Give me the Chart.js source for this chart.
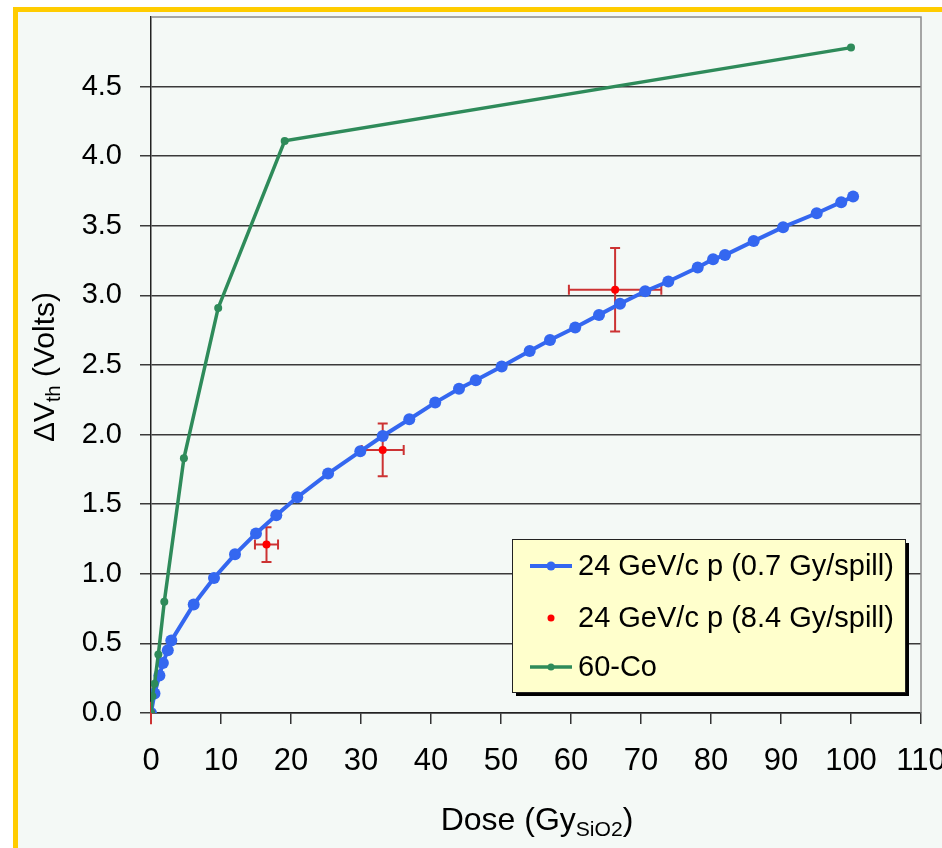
<!DOCTYPE html>
<html>
<head>
<meta charset="utf-8">
<script src="https://cdn.jsdelivr.net/npm/chart.js@4/dist/chart.umd.min.js"></script>
<style>
  html, body { margin: 0; padding: 0; background: #ffffff; }
  canvas { display: block; }
</style>
</head>
<body>
<canvas id="chart" width="942" height="848"></canvas>
<script>
// Threshold-voltage shift against absorbed dose

const doseTicks = [0, 10, 20, 30, 40, 50, 60, 70, 80, 90, 100, 110];
const voltTicks = [0, 0.5, 1.0, 1.5, 2.0, 2.5, 3.0, 3.5, 4.0, 4.5];

const seriesNames = [
  '24 GeV/c p (0.7 Gy/spill)',
  '24 GeV/c p (8.4 Gy/spill)',
  '60-Co'
];

// 24 GeV/c protons, 0.7 Gy per spill
const lowRateDose = [0, 0.5, 1.2, 1.7, 2.4, 2.9, 6.1, 9.0, 12.0, 15.0, 17.9, 20.9, 25.3, 29.9, 33.1,
  36.9, 40.6, 44.0, 46.4, 50.1, 54.1, 57.0, 60.6, 64.0, 67.0, 70.6, 73.9, 78.1, 80.3, 82.0,
  86.1, 90.3, 95.1, 98.6, 100.3];
const lowRateShift = [0, 0.14, 0.27, 0.36, 0.45, 0.52, 0.78, 0.97, 1.14, 1.29, 1.42, 1.55, 1.72, 1.88, 1.99,
  2.11, 2.23, 2.33, 2.39, 2.49, 2.60, 2.68, 2.77, 2.86, 2.94, 3.03, 3.10, 3.20, 3.26, 3.29,
  3.39, 3.49, 3.59, 3.67, 3.71];

// 24 GeV/c protons, 8.4 Gy per spill, with uncertainties (down / up / either side)
const highRateDose = [0, 16.5, 33.1, 66.3];
const highRateShift = [0, 1.21, 1.89, 3.04];
const highRateDoseErr = [0, 1.65, 3.0, 6.6];
const highRateShiftErr = [0.08, 0.125, 0.19, 0.30];

// 60-Co gamma irradiation
const cobaltDose = [0, 0.2, 0.5, 1.05, 1.9, 4.7, 9.6, 19.1, 100.0];
const cobaltShift = [0, 0.12, 0.21, 0.42, 0.80, 1.83, 2.91, 4.11, 4.78];

const BLUE = '#3467f0';
const RED = '#ff0000';
const ERR_RED = '#cc3333';
const GREEN = '#2e8b5a';
const PANEL = '#f4f9f6';
const FONT = '"Liberation Sans", Arial, sans-serif';

const toPoints = (xs, ys) => xs.map((x, i) => ({ x: x, y: ys[i] }));

// Page background with the yellow frame
const backdrop = {
  id: 'backdrop',
  beforeDraw(chart) {
    const { ctx, width, height } = chart;
    ctx.save();
    ctx.fillStyle = '#ffffff';
    ctx.fillRect(0, 0, width, height);
    ctx.fillStyle = '#ffcc00';
    ctx.fillRect(13, 7, width - 13, height - 7);
    ctx.fillStyle = PANEL;
    ctx.fillRect(18, 12, width - 18, height - 12);
    ctx.restore();
  }
};

// Horizontal and vertical error bars for the 8.4 Gy/spill points
const errorBars = {
  id: 'errorBars',
  beforeDatasetsDraw(chart) {
    const { ctx, scales: { x, y } } = chart;
    const cap = 5;
    ctx.save();
    ctx.strokeStyle = ERR_RED;
    ctx.lineWidth = 2;
    highRateDose.forEach((d, i) => {
      const v = highRateShift[i];
      const px = x.getPixelForValue(d);
      const py = y.getPixelForValue(v);
      const dy = highRateShiftErr[i];
      const dx = highRateDoseErr[i];
      const withCaps = dx > 0;
      ctx.beginPath();
      if (dy > 0) {
        const top = y.getPixelForValue(v + dy);
        const bot = y.getPixelForValue(v - dy);
        ctx.moveTo(px, top); ctx.lineTo(px, bot);
        if (withCaps) {
          ctx.moveTo(px - cap, top); ctx.lineTo(px + cap, top);
          ctx.moveTo(px - cap, bot); ctx.lineTo(px + cap, bot);
        }
      }
      if (dx > 0) {
        const l = x.getPixelForValue(d - dx);
        const r = x.getPixelForValue(d + dx);
        ctx.moveTo(l, py); ctx.lineTo(r, py);
        ctx.moveTo(l, py - cap); ctx.lineTo(l, py + cap);
        ctx.moveTo(r, py - cap); ctx.lineTo(r, py + cap);
      }
      ctx.stroke();
    });
    ctx.restore();
  }
};

// Grey top and right edges of the plot frame
const frame = {
  id: 'frame',
  beforeDatasetsDraw(chart) {
    const { ctx, chartArea: a } = chart;
    ctx.save();
    ctx.strokeStyle = '#8a8a8a';
    ctx.lineWidth = 1.5;
    ctx.beginPath();
    ctx.moveTo(a.left, a.top);
    ctx.lineTo(a.right, a.top);
    ctx.lineTo(a.right, a.bottom);
    ctx.stroke();
    ctx.restore();
  }
};

// Text with one subscript run, centred on the origin
function drawSubText(ctx, parts, size) {
  let w = 0;
  parts.forEach(p => {
    ctx.font = (p.sub ? size * 0.66 : size) + 'px ' + FONT;
    p.w = ctx.measureText(p.t).width;
    w += p.w;
  });
  let cx = -w / 2;
  parts.forEach(p => {
    ctx.font = (p.sub ? size * 0.66 : size) + 'px ' + FONT;
    ctx.fillText(p.t, cx, p.sub ? size * 0.28 : 0);
    cx += p.w;
  });
}

const axisTitles = {
  id: 'axisTitles',
  afterDraw(chart) {
    const { ctx } = chart;
    ctx.save();
    ctx.fillStyle = '#000000';
    ctx.textBaseline = 'middle';
    ctx.textAlign = 'left';

    ctx.save();
    ctx.translate(537, 821);
    drawSubText(ctx, [{ t: 'Dose (Gy' }, { t: 'SiO2', sub: true }, { t: ')' }], 32);
    ctx.restore();

    ctx.save();
    ctx.translate(46, 367);
    ctx.rotate(-Math.PI / 2);
    drawSubText(ctx, [{ t: '\u0394V' }, { t: 'th', sub: true }, { t: ' (Volts)' }], 30);
    ctx.restore();

    ctx.restore();
  }
};

// Boxed legend with drop shadow
const legendBox = {
  id: 'legendBox',
  afterDraw(chart) {
    const { ctx } = chart;
    const bx = 512, by = 539, bw = 393, bh = 153;
    ctx.save();
    ctx.fillStyle = '#000000';
    ctx.fillRect(bx + 4, by + 4, bw, bh);
    ctx.fillStyle = '#ffffcc';
    ctx.fillRect(bx, by, bw, bh);
    ctx.strokeStyle = '#222222';
    ctx.lineWidth = 1;
    ctx.strokeRect(bx + 0.5, by + 0.5, bw, bh);

    const rows = [566, 618, 667];
    chart.data.datasets.forEach((ds, i) => {
      const ry = rows[i];
      if (ds.showLine !== false) {
        ctx.strokeStyle = ds.borderColor;
        ctx.lineWidth = ds.borderWidth;
        ctx.beginPath();
        ctx.moveTo(530, ry);
        ctx.lineTo(572, ry);
        ctx.stroke();
      }
      ctx.fillStyle = ds.pointBackgroundColor;
      ctx.beginPath();
      ctx.arc(551, ry, i === 0 ? 4.5 : 3.5, 0, Math.PI * 2);
      ctx.fill();

      ctx.fillStyle = '#000000';
      ctx.font = '29px ' + FONT;
      ctx.textBaseline = 'middle';
      ctx.textAlign = 'left';
      ctx.fillText(ds.label, 578, ry + 1);
    });
    ctx.restore();
  }
};

new Chart(document.getElementById('chart'), {
  type: 'scatter',
  data: {
    datasets: [
      {
        label: seriesNames[0],
        data: toPoints(lowRateDose, lowRateShift),
        showLine: true,
        borderColor: BLUE,
        backgroundColor: BLUE,
        pointBackgroundColor: BLUE,
        pointBorderWidth: 0,
        borderWidth: 4,
        pointRadius: 6,
        order: 3
      },
      {
        label: seriesNames[1],
        data: toPoints(highRateDose, highRateShift),
        showLine: false,
        borderColor: RED,
        backgroundColor: RED,
        pointBackgroundColor: RED,
        pointBorderWidth: 0,
        pointRadius: 4,
        order: 2
      },
      {
        label: seriesNames[2],
        data: toPoints(cobaltDose, cobaltShift),
        showLine: true,
        borderColor: GREEN,
        backgroundColor: GREEN,
        pointBackgroundColor: GREEN,
        pointBorderWidth: 0,
        borderWidth: 3.5,
        pointRadius: 4,
        order: 1
      }
    ]
  },
  options: {
    responsive: false,
    animation: false,
    devicePixelRatio: 1,
    layout: { padding: { top: 17, right: 21, left: 0, bottom: 0 } },
    plugins: {
      legend: { display: false },
      tooltip: { enabled: false },
      title: { display: false }
    },
    scales: {
      x: {
        type: 'linear',
        min: 0,
        max: 110,
        afterBuildTicks(scale) { scale.ticks = doseTicks.map(v => ({ value: v })); },
        afterFit(scale) {
          scale.height = 135;
          scale.paddingLeft = 0; scale.paddingRight = 0;
        },
        grid: {
          drawOnChartArea: false,
          drawTicks: true,
          tickLength: 11,
          color: '#333333',
          lineWidth: 1.5
        },
        border: { display: true, color: '#222222', width: 1.5 },
        ticks: {
          color: '#000000',
          font: { family: FONT, size: 31 },
          padding: 19,
          maxRotation: 0,
          autoSkip: false,
          callback: v => String(v)
        }
      },
      y: {
        type: 'linear',
        min: 0,
        max: 5,
        afterBuildTicks(scale) { scale.ticks = voltTicks.map(v => ({ value: v })); },
        afterFit(scale) {
          scale.width = 151;
          scale.paddingTop = 0; scale.paddingBottom = 0;
        },
        grid: {
          drawTicks: true,
          tickLength: 11,
          color: '#3a3a3a',
          lineWidth: 1.5
        },
        border: { display: true, color: '#222222', width: 1.5 },
        ticks: {
          color: '#000000',
          font: { family: FONT, size: 29 },
          padding: 18,
          autoSkip: false,
          callback: v => Number(v).toFixed(1)
        }
      }
    }
  },
  plugins: [backdrop, frame, errorBars, axisTitles, legendBox]
});
</script>
</body>
</html>
